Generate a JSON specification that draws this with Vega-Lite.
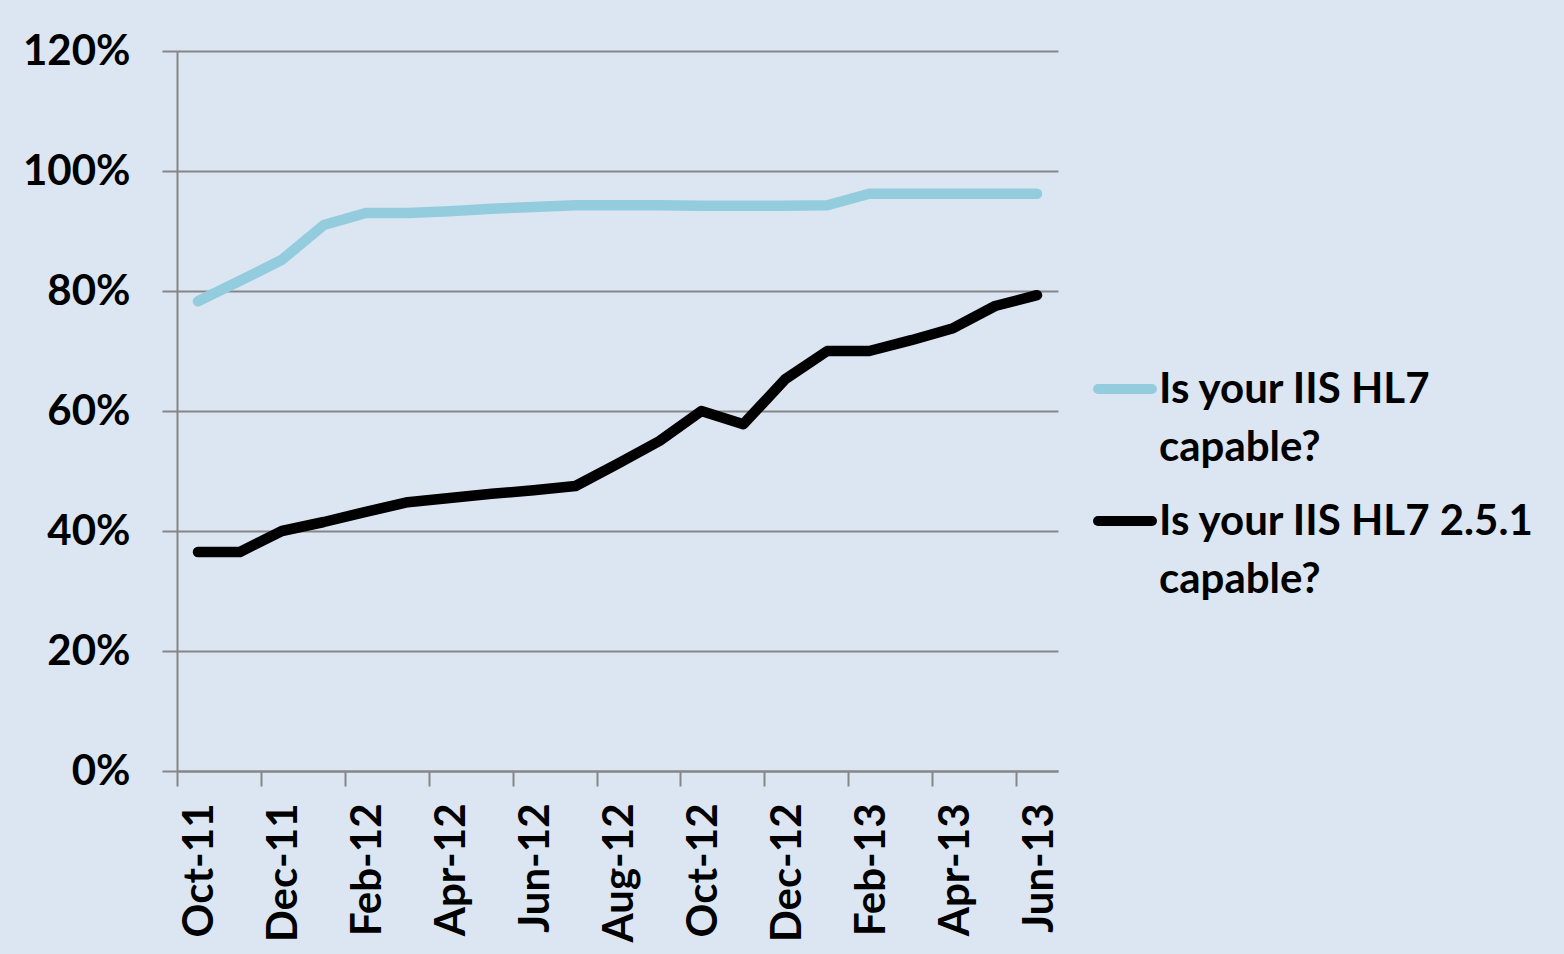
{
  "$schema": "https://vega.github.io/schema/vega-lite/v6.json",
  "autosize": "none",
  "width": 881,
  "height": 720,
  "padding": {"left": 177, "top": 51, "right": 506, "bottom": 183},
  "background": "#DCE6F2",
  "config": {
    "view": {"stroke": null},
    "font": "Lato",
    "style": {"guide-label": {"lineHeight": 58}}
  },
  "data": {
    "values": [
      {"month": "Oct-11", "series": "Is your IIS HL7 capable?", "value": 0.783},
      {"month": "Nov-11", "series": "Is your IIS HL7 capable?", "value": 0.817},
      {"month": "Dec-11", "series": "Is your IIS HL7 capable?", "value": 0.852},
      {"month": "Jan-12", "series": "Is your IIS HL7 capable?", "value": 0.91},
      {"month": "Feb-12", "series": "Is your IIS HL7 capable?", "value": 0.93},
      {"month": "Mar-12", "series": "Is your IIS HL7 capable?", "value": 0.93},
      {"month": "Apr-12", "series": "Is your IIS HL7 capable?", "value": 0.933},
      {"month": "May-12", "series": "Is your IIS HL7 capable?", "value": 0.937},
      {"month": "Jun-12", "series": "Is your IIS HL7 capable?", "value": 0.94},
      {"month": "Jul-12", "series": "Is your IIS HL7 capable?", "value": 0.943},
      {"month": "Aug-12", "series": "Is your IIS HL7 capable?", "value": 0.943},
      {"month": "Sep-12", "series": "Is your IIS HL7 capable?", "value": 0.943},
      {"month": "Oct-12", "series": "Is your IIS HL7 capable?", "value": 0.942},
      {"month": "Nov-12", "series": "Is your IIS HL7 capable?", "value": 0.942},
      {"month": "Dec-12", "series": "Is your IIS HL7 capable?", "value": 0.942},
      {"month": "Jan-13", "series": "Is your IIS HL7 capable?", "value": 0.943},
      {"month": "Feb-13", "series": "Is your IIS HL7 capable?", "value": 0.962},
      {"month": "Mar-13", "series": "Is your IIS HL7 capable?", "value": 0.962},
      {"month": "Apr-13", "series": "Is your IIS HL7 capable?", "value": 0.962},
      {"month": "May-13", "series": "Is your IIS HL7 capable?", "value": 0.962},
      {"month": "Jun-13", "series": "Is your IIS HL7 capable?", "value": 0.962},
      {"month": "Oct-11", "series": "Is your IIS HL7 2.5.1 capable?", "value": 0.365},
      {"month": "Nov-11", "series": "Is your IIS HL7 2.5.1 capable?", "value": 0.365},
      {"month": "Dec-11", "series": "Is your IIS HL7 2.5.1 capable?", "value": 0.40},
      {"month": "Jan-12", "series": "Is your IIS HL7 2.5.1 capable?", "value": 0.415},
      {"month": "Feb-12", "series": "Is your IIS HL7 2.5.1 capable?", "value": 0.432},
      {"month": "Mar-12", "series": "Is your IIS HL7 2.5.1 capable?", "value": 0.448},
      {"month": "Apr-12", "series": "Is your IIS HL7 2.5.1 capable?", "value": 0.455},
      {"month": "May-12", "series": "Is your IIS HL7 2.5.1 capable?", "value": 0.462},
      {"month": "Jun-12", "series": "Is your IIS HL7 2.5.1 capable?", "value": 0.468},
      {"month": "Jul-12", "series": "Is your IIS HL7 2.5.1 capable?", "value": 0.475},
      {"month": "Aug-12", "series": "Is your IIS HL7 2.5.1 capable?", "value": 0.512},
      {"month": "Sep-12", "series": "Is your IIS HL7 2.5.1 capable?", "value": 0.55},
      {"month": "Oct-12", "series": "Is your IIS HL7 2.5.1 capable?", "value": 0.60},
      {"month": "Nov-12", "series": "Is your IIS HL7 2.5.1 capable?", "value": 0.578},
      {"month": "Dec-12", "series": "Is your IIS HL7 2.5.1 capable?", "value": 0.653},
      {"month": "Jan-13", "series": "Is your IIS HL7 2.5.1 capable?", "value": 0.70},
      {"month": "Feb-13", "series": "Is your IIS HL7 2.5.1 capable?", "value": 0.70},
      {"month": "Mar-13", "series": "Is your IIS HL7 2.5.1 capable?", "value": 0.718},
      {"month": "Apr-13", "series": "Is your IIS HL7 2.5.1 capable?", "value": 0.738},
      {"month": "May-13", "series": "Is your IIS HL7 2.5.1 capable?", "value": 0.775},
      {"month": "Jun-13", "series": "Is your IIS HL7 2.5.1 capable?", "value": 0.793}
    ]
  },
  "mark": {"type": "line", "strokeWidth": 10.5, "strokeCap": "round", "strokeJoin": "round"},
  "encoding": {
    "x": {
      "field": "month",
      "type": "ordinal",
      "sort": null,
      "scale": {"type": "point", "padding": 0.5},
      "axis": {
        "title": null,
        "values": ["Oct-11", "Dec-11", "Feb-12", "Apr-12", "Jun-12", "Aug-12", "Oct-12", "Dec-12", "Feb-13", "Apr-13", "Jun-13"],
        "labelAngle": -90,
        "labelAlign": "right",
        "labelBaseline": "middle",
        "labelFont": "Lato",
        "labelFontWeight": "bold",
        "labelFontSize": 42,
        "labelColor": "#000000",
        "labelPadding": 17,
        "tickOffset": -21,
        "labelOffset": 23,
        "tickSize": 15,
        "tickColor": "#868686",
        "tickWidth": 2,
        "domainColor": "#868686",
        "domainWidth": 2,
        "grid": false
      }
    },
    "y": {
      "field": "value",
      "type": "quantitative",
      "scale": {"domain": [0, 1.2], "nice": false},
      "axis": {
        "title": null,
        "values": [0, 0.2, 0.4, 0.6, 0.8, 1.0, 1.2],
        "format": ".0%",
        "labelFont": "Lato",
        "labelFontWeight": "bold",
        "labelFontSize": 42,
        "labelColor": "#000000",
        "labelPadding": 32,
        "tickSize": 15,
        "tickColor": "#868686",
        "tickWidth": 2,
        "domainColor": "#868686",
        "domainWidth": 2,
        "grid": true,
        "gridColor": "#868686",
        "gridWidth": 2
      }
    },
    "color": {
      "field": "series",
      "type": "nominal",
      "scale": {
        "domain": ["Is your IIS HL7 capable?", "Is your IIS HL7 2.5.1 capable?"],
        "range": ["#93CDDD", "#000000"]
      },
      "legend": {
        "title": null,
        "orient": "none",
        "legendX": 916,
        "legendY": 306,
        "symbolType": "stroke",
        "symbolStrokeWidth": 10,
        "symbolSize": 2916,
        "labelFont": "Lato",
        "labelFontWeight": "bold",
        "labelFontSize": 42,
        "labelColor": "#000000",
        "labelLimit": 0,
        "labelOffset": 2,
        "labelBaseline": "alphabetic",
        "rowPadding": 20,
        "labelExpr": "datum.label == 'Is your IIS HL7 capable?' ? ['Is your IIS HL7', 'capable?'] : ['Is your IIS HL7 2.5.1', 'capable?']",
        "encode": {
          "labels": {"update": {"dy": {"value": 14}}},
          "symbols": {"update": {"strokeCap": {"value": "round"}}}
        }
      }
    }
  }
}
